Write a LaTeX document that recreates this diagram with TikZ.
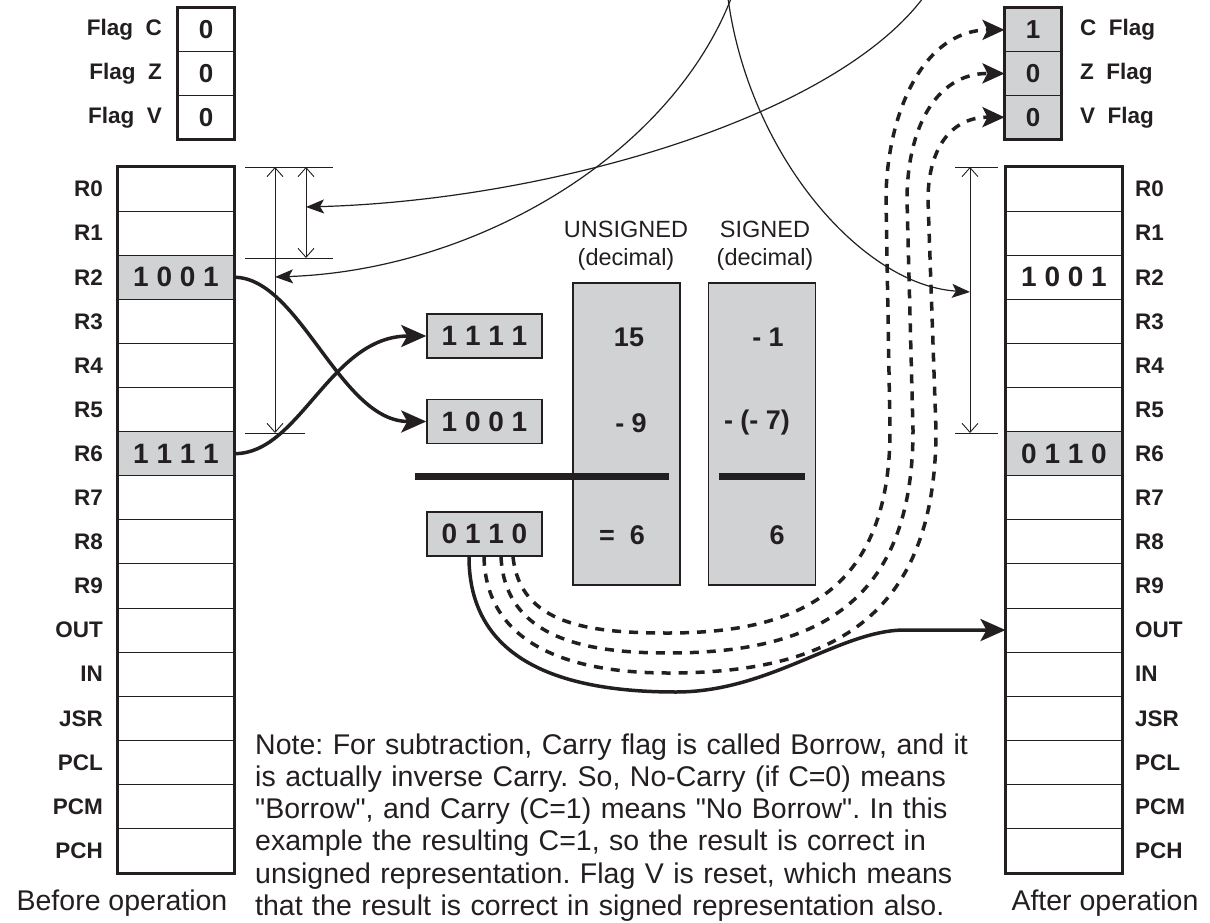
\documentclass[tikz,border=0pt]{standalone}
\usepackage{fontspec}
\setmainfont{Liberation Sans}
\usetikzlibrary{arrows.meta}
\definecolor{ink}{RGB}{35,31,32}
\definecolor{boxgray}{RGB}{209,210,212}
\newcommand\lblfont{\fontsize{22.5}{27}\selectfont\bfseries}
\newcommand\bitfont{\fontsize{28}{32}\selectfont\bfseries}
\newcommand\flagfont{\fontsize{26}{30}\selectfont\bfseries}
\newcommand\numfont{\fontsize{27}{31}\selectfont\bfseries}
\newcommand\headfont{\fontsize{23.5}{28}\selectfont}
\newcommand\notefont{\fontsize{28.5}{32.2}\selectfont}
\newcommand\dq{\XeTeXglyph\the\XeTeXcharglyph"22\relax}
\frenchspacing

\begin{document}
\begin{tikzpicture}[x=1pt,y=-1pt,color=ink,
  reg/.style={draw=ink,line width=1pt,minimum width=116pt,minimum height=44.1pt,inner sep=0pt,font=\bitfont},
  flagbox/.style={draw=ink,line width=1pt,minimum width=56pt,minimum height=43.7pt,inner sep=0pt,font=\flagfont},
  frame/.style={draw=ink,line width=3pt},
  lbl/.style={font=\lblfont,inner sep=0pt},
  valbox/.style={draw=ink,line width=1.5pt,fill=boxgray,minimum width=115pt,minimum height=44pt,inner sep=0pt,font=\bitfont},
  colbox/.style={draw=ink,line width=1.5pt,fill=boxgray,minimum width=107pt,minimum height=302pt,inner sep=0pt},
  head/.style={font=\headfont,align=center,inner sep=0pt},
  num/.style={font=\numfont,inner sep=0pt},
  note/.style={font=\notefont,align=left,text width=760pt,inner sep=0pt},
  sumbar/.style={draw=ink,line width=7pt},
  dimline/.style={draw=ink,line width=0.9pt},
  dimarr/.style={dimline,{Straight Barb[length=9pt,width=16pt]}-{Straight Barb[length=9pt,width=16pt]}},
  thinarr/.style={draw=ink,line width=1.2pt,-{Stealth[length=18pt,width=14pt,inset=4pt]}},
  thickarr/.style={draw=ink,line width=3.5pt,-{Stealth[length=25pt,width=22pt,inset=6pt]}},
  flagarr/.style={draw=ink,line width=3.5pt,dash pattern=on 9pt off 8pt,-{Stealth[length=22pt,width=20pt,inset=5pt]}}]
\useasboundingbox (0,0) rectangle (1210,923);

% register files, before and after
\foreach \rname [count=\i from 0] in {R0,R1,R2,R3,R4,R5,R6,R7,R8,R9,OUT,IN,JSR,PCL,PCM,PCH}{
  \node[reg] (L\i) at (176,{189.05+44.1*\i}) {};
  \node[lbl,anchor=east] (Ln\i) at (103,{189.05+44.1*\i}) {\rname};
  \node[reg] (A\i) at (1064,{189.05+44.1*\i}) {};
  \node[lbl,anchor=west] (An\i) at (1135,{189.05+44.1*\i}) {\rname};
}
\node[reg,fill=boxgray] (L2v) at (L2) {1 0 0 1};
\node[reg,fill=boxgray] (L6v) at (L6) {1 1 1 1};
\node[reg] (A2v) at (A2) {1 0 0 1};
\node[reg,fill=boxgray] (A6v) at (A6) {0 1 1 0};
\draw[frame] (L0.north west) rectangle (L15.south east);
\draw[frame] (A0.north west) rectangle (A15.south east);

% flags
\foreach \f/\v [count=\i from 0] in {C/0,Z/0,V/0}{
  \node[flagbox] (lf\f) at (206,{29.85+43.7*\i}) {\v};
  \node[lbl,anchor=east] (lfn\f) at (162,{29.85+43.7*\i}) {Flag\ \ \f};
}
\foreach \f/\v [count=\i from 0] in {C/1,Z/0,V/0}{
  \node[flagbox,fill=boxgray] (rf\f) at (1033,{29.85+43.7*\i}) {\v};
  \node[lbl,anchor=west] (rfn\f) at (1080,{29.85+43.7*\i}) {\f\ \ Flag};
}
\draw[frame] (lfC.north west) rectangle (lfV.south east);
\draw[frame] (rfC.north west) rectangle (rfV.south east);

% the subtraction
\node[valbox] (b1111) at (484.5,336) {1 1 1 1};
\node[valbox] (b1001) at (484.5,421.5) {1 0 0 1};
\node[valbox] (b0110) at (484.5,534) {0 1 1 0};
\node[colbox] (colU) at (626.5,434) {};
\node[colbox] (colS) at (762,434) {};
\node[head] (hU) at (626,246) {UNSIGNED\\(decimal)};
\node[head] (hS) at (765,246) {SIGNED\\(decimal)};
\node[num] (u15) at (629,337) {15};
\node[num] (u9) at (631,423) {- 9};
\node[num] (u6) at (622,535) {=\ \ 6};
\node[num] (s1) at (768,337) {- 1};
\node[num] (s7) at (757,423) {- (- 7)};
\node[num] (s6) at (777,535) {6};
\draw[sumbar] (415,476) -- (669,476);
\draw[sumbar] (719,476) -- (805,476);

% dimension marks
\draw[dimline] (245,167) -- (333,167) (245,258) -- (333,258) (245,433) -- (305,433);
\draw[dimarr] (275,167) -- (275,433);
\draw[dimarr] (306,167) -- (306,258);
\draw[dimline] (955,167) -- (998,167) (955,433) -- (998,433);
\draw[dimarr] (970,167) -- (970,433);

\coordinate (inR01) at (306,207);
\coordinate (inR2) at (275,277);
\coordinate (outR05) at (970,292);
\coordinate (topA) at (935,-20);
\coordinate (topB) at (736,-15);
\coordinate (topC) at (727,-10);
\begin{scope}
\clip (0,0) rectangle (1210,923);
\draw[thinarr] (topA) .. controls (860,110) and (560,200) .. (inR01);
\draw[thinarr] (topB) .. controls (680,150) and (480,270) .. (inR2);
\draw[thinarr] (topC) .. controls (745,150) and (860,285) .. (outR05);
\end{scope}

% operands and result
\draw[thickarr] (L2v.east) .. controls (300,278) and (340,421.5) .. (b1001.west);
\draw[thickarr] (L6v.east) .. controls (300,454) and (330,336) .. (b1111.west);
\draw[thickarr] ([xshift=-15.5pt]b0110.south) .. controls (469,660) and (560,692) .. (676,692)
  .. controls (770,692) and (840,630) .. (905,630) -- (A10.west);
\draw[flagarr] ([xshift=28.5pt]b0110.south) .. controls (520,625) and (590,633) .. (668,633)
  .. controls (800,633) and (890,590) .. (890,430) -- (886,200) .. controls (886,120) and (920,30) .. (rfC.west);
\draw[flagarr] ([xshift=16.5pt]b0110.south) .. controls (505,640) and (590,653) .. (668,653)
  .. controls (813,653) and (913,606) .. (913,430) -- (907,200) .. controls (907,130) and (935,73) .. (rfZ.west);
\draw[flagarr] ([xshift=-0.5pt]b0110.south) .. controls (486,650) and (580,673) .. (668,673)
  .. controls (826,673) and (936,622) .. (936,430) -- (928,200) .. controls (928,150) and (950,117) .. (rfV.west);

\node[font=\notefont,inner sep=0pt,anchor=base] (before) at (122,910) {Before operation};
\node[font=\notefont,inner sep=0pt,anchor=base] (after) at (1105,910) {After operation};
\node[note,anchor=north west] (notetxt) at (255,733.5) {Note: For subtraction, Carry flag is called Borrow, and it\\
is actually inverse Carry. So, No-Carry (if C=0) means\\
\dq Borrow\dq, and Carry (C=1) means \dq No Borrow\dq. In this\\
example the resulting C=1, so the result is correct in\\
unsigned representation. Flag V is reset, which means\\
that the result is correct in signed representation also.};
\end{tikzpicture}
\end{document}
